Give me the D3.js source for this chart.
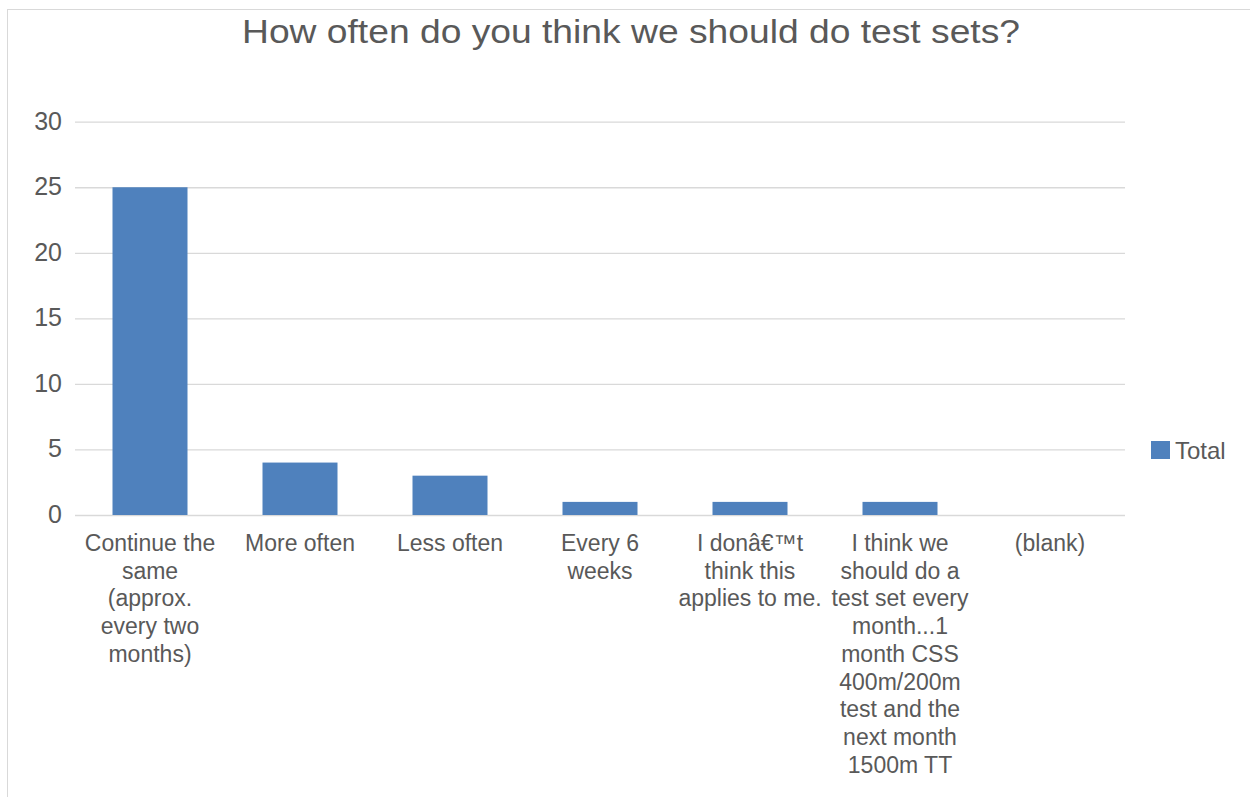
<!DOCTYPE html>
<html>
<head>
<meta charset="utf-8">
<script src="https://cdn.jsdelivr.net/npm/d3@7"></script>
<style>
  html, body { margin: 0; padding: 0; background: #ffffff; }
  svg { display: block; font-family: "Liberation Sans", Arial, sans-serif; }
</style>
</head>
<body>
<svg id="chart" width="1250" height="797"></svg>
<script>
// Survey answers and their counts
const categories = [
  "Continue the same (approx. every two months)",
  "More often",
  "Less often",
  "Every 6 weeks",
  "I donâ€™t think this applies to me.",
  "I think we should do a test set every month...1 month CSS 400m/200m test and the next month 1500m TT",
  "(blank)"
];
const categoryLines = [
  ["Continue the", "same", "(approx.", "every two", "months)"],
  ["More often"],
  ["Less often"],
  ["Every 6", "weeks"],
  ["I donâ€™t", "think this", "applies to me."],
  ["I think we", "should do a", "test set every", "month...1", "month CSS", "400m/200m", "test and the", "next month", "1500m TT"],
  ["(blank)"]
];
const totals = [25, 4, 3, 1, 1, 1, 0];
const yTicks = [0, 5, 10, 15, 20, 25, 30];
const seriesName = "Total";
const chartTitle = "How often do you think we should do test sets?";

const svg = d3.select("#chart");
const textColor = "#595959";
const barColor = "#4f81bd";
const gridColor = "#d9d9d9";

// Outer chart frame
svg.append("rect")
  .attr("x", 7.5).attr("y", 9.5)
  .attr("width", 1260).attr("height", 800)
  .attr("fill", "#fff").attr("stroke", gridColor).attr("stroke-width", 1);

const plot = { left: 75, right: 1125, top: 121.7, bottom: 515 };

const x = d3.scaleBand()
  .domain(categories)
  .range([plot.left, plot.right])
  .paddingInner(0.5)
  .paddingOuter(0.25);

const y = d3.scaleLinear()
  .domain([0, 30])
  .range([plot.bottom, plot.top]);

// Title
svg.append("text")
  .attr("x", 631).attr("y", 43)
  .attr("text-anchor", "middle")
  .attr("fill", textColor)
  .attr("font-size", 33)
  .attr("textLength", 778)
  .attr("lengthAdjust", "spacingAndGlyphs")
  .text(chartTitle);

// Horizontal gridlines and y tick labels
const yAxis = d3.axisLeft(y)
  .tickValues(yTicks)
  .tickSize(-(plot.right - plot.left))
  .tickPadding(13);

const gy = svg.append("g")
  .attr("transform", `translate(${plot.left},0)`)
  .call(yAxis);
gy.select(".domain").remove();
gy.selectAll(".tick line").attr("stroke", gridColor).attr("stroke-width", 1.3);
gy.selectAll(".tick text")
  .attr("fill", textColor)
  .attr("font-size", 25)
  .attr("dy", "0.3em")
  .attr("font-family", "Liberation Sans, Arial, sans-serif");

// Bars
svg.append("g")
  .selectAll("rect")
  .data(totals)
  .join("rect")
  .attr("x", (d, i) => x(categories[i]))
  .attr("y", d => y(d))
  .attr("width", x.bandwidth())
  .attr("height", d => y(0) - y(d))
  .attr("fill", barColor);

// Category labels, wrapped across lines
const xLabels = svg.append("g");
categories.forEach((c, i) => {
  const cx = x(c) + x.bandwidth() / 2;
  const t = xLabels.append("text")
    .attr("text-anchor", "middle")
    .attr("fill", textColor)
    .attr("font-size", 23);
  categoryLines[i].forEach((line, j) => {
    t.append("tspan")
      .attr("x", cx)
      .attr("y", 551 + j * 27.7)
      .text(line);
  });
});

// Legend
const legend = svg.append("g");
legend.append("rect")
  .attr("x", 1151).attr("y", 441)
  .attr("width", 19).attr("height", 18)
  .attr("fill", barColor);
legend.append("text")
  .attr("x", 1175).attr("y", 459)
  .attr("fill", textColor)
  .attr("font-size", 24)
  .text(seriesName);
</script>
</body>
</html>
